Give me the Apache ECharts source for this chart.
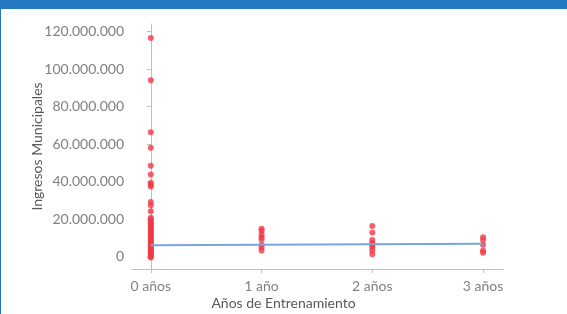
<!DOCTYPE html>
<html>
<head>
<meta charset="utf-8">
<script src="https://cdn.jsdelivr.net/npm/echarts@6/dist/echarts.min.js"></script>
<style>
html,body{margin:0;padding:0;background:#fff;}
#frame{position:absolute;left:0;top:0;width:567px;height:314px;box-sizing:border-box;border-left:1px solid #2479c2;}
#band{position:absolute;left:0;top:0;width:567px;height:9px;background:#2479c2;}
#chart{position:absolute;left:0;top:0;width:567px;height:314px;}
</style>
</head>
<body>
<div id="chart"></div>
<div id="frame"></div>
<div id="band"></div>
<script>
var categories = ['0 años', '1 año', '2 años', '3 años'];
var yTicks = [0, 20000000, 40000000, 60000000, 80000000, 100000000, 120000000];
var ingresos0 = [116500000, 94000000, 66400000, 58100000, 48500000, 43900000, 39500000, 38500000, 37500000,
  29200000, 27500000, 24300000, 20900000, 20000000, 19000000, 18000000, 17200000, 16300000, 15500000,
  14600000, 13800000, 13000000, 12200000, 11400000, 10600000, 9800000, 9000000, 8300000, 7600000,
  6900000, 6200000, 5500000, 4800000, 4100000, 3500000, 2900000, 2300000, 1700000, 1100000, 600000, 200000, -300000];
var ingresos1 = [15000000, 14000000, 12000000, 10500000, 9300000, 6500000, 5000000, 3500000];
var ingresos2 = [16500000, 13000000, 9000000, 7500000, 6200000, 5000000, 3500000, 1500000];
var ingresos3 = [10500000, 9000000, 6500000, 3500000, 2200000];
var trendX = [0, 3];
var trendY = [6200000, 7000000];

function fmt(v) {
  return String(Math.round(v)).replace(/\B(?=(\d{3})+(?!\d))/g, '.');
}
var groups = [ingresos0, ingresos1, ingresos2, ingresos3];
var points = [];
groups.forEach(function (g, i) { g.forEach(function (v) { points.push([i, v]); }); });

var chart = echarts.init(document.getElementById('chart'), null, {renderer: 'canvas'});
var font = 'Lato, "Open Sans", sans-serif';
chart.setOption({
  animation: false,
  title: {
    text: 'Años de Entrenamiento', left: 'center', top: 291,
    textStyle: {fontFamily: font, fontSize: 14, fontWeight: 'normal', color: '#595959'}
  },
  grid: {left: 132, right: 64, top: 24, bottom: 45},
  xAxis: {
    type: 'value', min: -0.17, max: 3.18,
    splitLine: {show: false},
    axisLine: {show: true, onZero: false, lineStyle: {color: '#bfbfbf', width: 1}},
    axisTick: {show: true, customValues: [0, 1, 2, 3], length: 4, lineStyle: {color: '#bfbfbf'}},
    axisLabel: {
      customValues: [0, 1, 2, 3], margin: 10,
      formatter: function (v) { return categories[Math.round(v)]; },
      fontFamily: font, fontSize: 14, color: '#808080'
    }
  },
  yAxis: {
    type: 'value', min: -6400000, max: 124000000,
    name: 'Ingresos Municipales', nameLocation: 'middle', nameGap: 88, nameRotate: 90,
    nameMoveOverlap: false,
    nameTextStyle: {fontFamily: font, fontSize: 14, color: '#595959'},
    splitLine: {show: false},
    axisLine: {show: true, lineStyle: {color: '#bfbfbf', width: 1}},
    axisTick: {show: true, customValues: yTicks, length: 4, lineStyle: {color: '#bfbfbf'}},
    axisLabel: {
      customValues: yTicks, margin: 8,
      formatter: fmt,
      fontFamily: font, fontSize: 14, color: '#808080'
    }
  },
  series: [
    {
      type: 'scatter', data: points, symbol: 'circle', symbolSize: 6,
      itemStyle: {color: '#ef3b45'}, z: 2
    },
    {
      type: 'line', data: trendX.map(function (x, i) { return [x, trendY[i]]; }),
      symbol: 'none', lineStyle: {color: '#7ea2dc', width: 2}, z: 3
    }
  ]
});
</script>
</body>
</html>
